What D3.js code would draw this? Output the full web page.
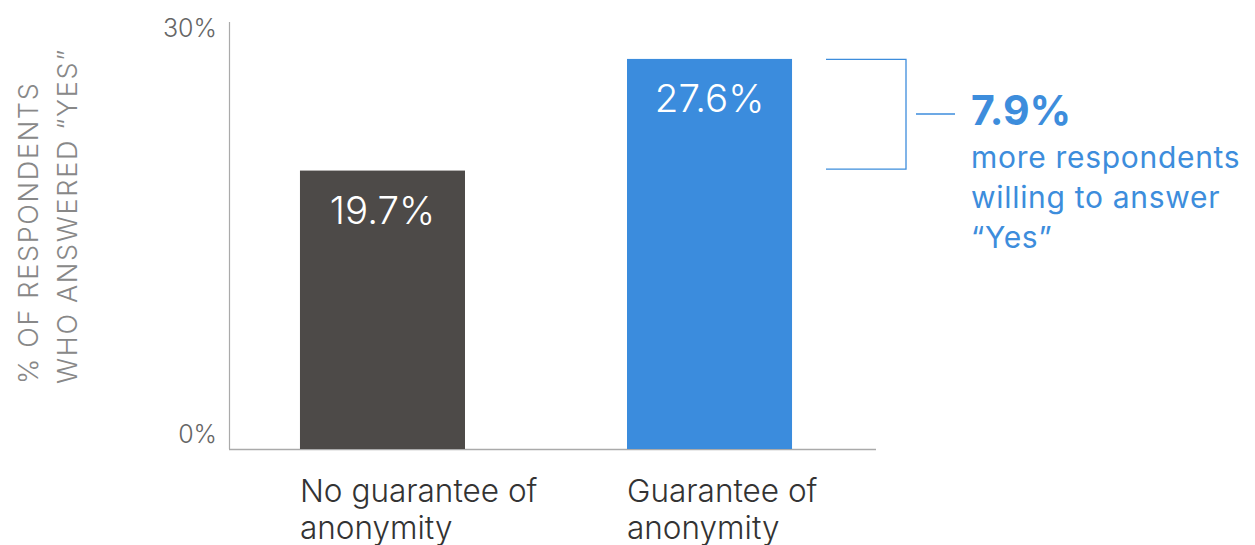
<!DOCTYPE html>
<html><head><meta charset="utf-8">
<script src="https://cdn.jsdelivr.net/npm/d3@7"></script>
<style>
html,body{margin:0;padding:0;background:#fff;}
svg{display:block;}
</style></head>
<body>
<svg id="chart" width="1255" height="545"></svg>
<script>
const categories = [["No guarantee of","anonymity"],["Guarantee of","anonymity"]];
const values = [19.7, 27.6];
const barLabels = ["19.7%","27.6%"];
const yTicks = [0, 30];
const yTickLabels = ["0%","30%"];
const yTitle = ["% OF RESPONDENTS","WHO ANSWERED “YES”"];
const diffValue = "7.9%";
const diffText = ["more respondents","willing to answer","“Yes”"];
const colors = ["#4d4a48","#3b8cdd"];
const accent = "#3d8ddc";

const svg = d3.select("#chart");
const font = "Inter, Roboto, sans-serif";

const y = d3.scaleLinear().domain([0,30]).range([449,25]);
const x = d3.scaleBand().domain(d3.range(values.length)).range([229,863]).paddingInner(0.4954).paddingOuter(0.217);

// axes lines
svg.append("line").attr("x1",229.5).attr("x2",229.5).attr("y1",y(30)-3).attr("y2",y(0)).attr("stroke","#aaa").attr("stroke-width",1.2);
svg.append("line").attr("x1",229).attr("x2",876).attr("y1",y(0)+0.5).attr("y2",y(0)+0.5).attr("stroke","#aaa").attr("stroke-width",1.5);

// y tick labels
svg.selectAll(".ytick").data(yTicks).enter().append("text")
  .attr("x",217).attr("y",d=> d===0 ? y(d)-6 : y(d)+12).attr("text-anchor","end")
  .attr("font-family",font).attr("font-weight",300).attr("font-size",25).attr("fill","#666")
  .text((d,i)=>yTickLabels[i]);

// y title
const yt = svg.append("g").attr("transform","translate(0,384) rotate(-90)");
yTitle.forEach((t,i)=>{
  yt.append("text").attr("x",0).attr("y",38+i*39).attr("text-anchor","start")
    .attr("font-family",font).attr("font-weight",300).attr("font-size",27).attr("letter-spacing",1.7)
    .attr("fill","#888").text(t);
});

// bars
svg.selectAll(".bar").data(values).enter().append("rect")
  .attr("x",(d,i)=>x(i)).attr("width",x.bandwidth())
  .attr("y",d=>y(d)).attr("height",d=>y(0)-y(d))
  .attr("fill",(d,i)=>colors[i]);

// bar labels
svg.selectAll(".bl").data(values).enter().append("text")
  .attr("x",(d,i)=>x(i)+x.bandwidth()/2).attr("y",d=>y(d)+53.5)
  .attr("text-anchor","middle").attr("font-family",font).attr("font-weight",300)
  .attr("font-size",38.5).attr("fill","#fff").text((d,i)=>barLabels[i]);

// category labels
categories.forEach((lines,i)=>{
  const t = svg.append("text").attr("x",x(i)).attr("y",502)
    .attr("font-family",font).attr("font-weight",300).attr("font-size",31.5).attr("fill","#333");
  lines.forEach((l,j)=>t.append("tspan").attr("x",x(i)).attr("dy",j===0?0:37).text(l));
});

// bracket
const bx0 = 826, bx1 = 906;
const yTop = y(values[1]), yBot = y(values[0]) - 1.5;
svg.append("path")
  .attr("d",`M${bx0},${yTop+0.5}H${bx1}V${yBot}H${bx0}`)
  .attr("fill","none").attr("stroke",accent).attr("stroke-width",1.3);
const ym = (yTop+yBot)/2;
svg.append("line").attr("x1",916).attr("x2",955).attr("y1",ym).attr("y2",ym).attr("stroke",accent).attr("stroke-width",1.3);

svg.append("text").attr("x",971).attr("y",125).attr("font-family",font).attr("font-weight",700)
  .attr("font-size",41).attr("fill",accent).text(diffValue);
diffText.forEach((t,i)=>{
  svg.append("text").attr("x",971).attr("y",168+i*40).attr("font-family",font).attr("font-weight",400)
    .attr("font-size",30).attr("letter-spacing",0.7).attr("fill",accent).text(t);
});
</script>
</body></html>
